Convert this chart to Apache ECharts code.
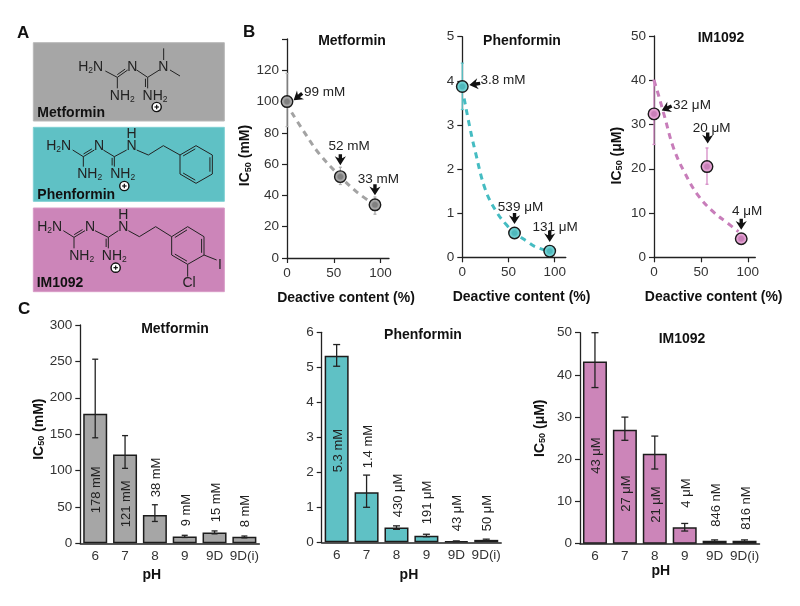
<!DOCTYPE html>
<html><head><meta charset="utf-8">
<style>html,body{margin:0;padding:0;background:#fff}#c{width:800px;height:606px}</style>
<script src="https://cdn.jsdelivr.net/npm/echarts@6/dist/echarts.min.js"></script>
</head><body><div id="c"></div>
<script>
// ---------- data ----------
const pHLabels = ['6','7','8','9','9D','9D(i)'];

const metBars = [178,122,39,9.5,15,9];
const metBarLo = [145,103,30,8,13,7.5];
const metBarHi = [253,148,53,11,17,10];
const metBarNotes = ['178 mM','121 mM','38 mM','9 mM','15 mM','8 mM'];

const phenBars = [5.33,1.43,0.42,0.19,0.03,0.07];
const phenBarLo = [5.03,1.0,0.37,0.16,0.02,0.03];
const phenBarHi = [5.65,1.92,0.47,0.23,0.04,0.09];
const phenBarNotes = ['5.3 mM','1.4 mM','430 μM','191 μM','43 μM','50 μM'];

const imBars = [43.2,27,21.3,3.9,0.7,0.7];
const imBarLo = [37,24.5,17.7,3,0.5,0.5];
const imBarHi = [50,30,25.5,4.8,0.9,0.9];
const imBarNotes = ['43 μM','27 μM','21 μM','4 μM','846 nM','816 nM'];

const deactive = [0,57,94];
const metPts = [100,52,34];
const metPtLo = [84,47,28];
const metPtHi = [118,58,39];
const metPtNotes = ['99 mM','52 mM','33 mM'];
const metCurve = [[5,93],[20,79],[34,67],[57,52],[75,42],[89,36]];

const phenX = [0,56.5,94.6];
const phenPts = [3.87,0.55,0.14];
const phenPtLo = [3.35,0.47,0.1];
const phenPtHi = [4.4,0.63,0.18];
const phenPtNotes = ['3.8 mM','539 μM','131 μM'];
const phenCurve = [[2,3.6],[8,2.96],[14,2.4],[25,1.53],[37,1.03],[48,0.73],[57,0.55],[70,0.36],[79,0.24],[90,0.16]];

const imX = [0,56.5,93];
const imPts = [32.4,20.5,4.2];
const imPtLo = [25.5,16.5,3.4];
const imPtHi = [40,24.7,5];
const imPtNotes = ['32 μM','20 μM','4 μM'];
const imCurve = [[0,40],[5,36.5],[11,32],[21,24.6],[33,19],[47,14],[63,10.3],[78,7.8],[90,5.8]];

// ---------- layout & style (not data) ----------
const FF = '"Liberation Sans", Arial, sans-serif';
const GREY='#a6a6a6', TEAL='#5fc1c5', PINK='#cc85b9';
const AX='#222', TXT='#333';
const tickFont = {fontFamily:FF,fontSize:13.5,color:TXT};

const grids = [
  {left:287,top:39,width:102,height:219},
  {left:462.3,top:36.7,width:103.5,height:220.6},
  {left:654,top:36,width:101.3,height:221.3},
  {left:80.3,top:325,width:179,height:218.3},
  {left:321.7,top:332.3,width:179.5,height:210},
  {left:580,top:332.7,width:179.5,height:211}
];
const arrowNote = [
  // per point: arrow tip offset, arrow direction, label centre offset
  [{t:[6.6,-1.3],d:[-30,24],l:[37.6,-9.3]},{t:[0,-11.5],d:[0,1],l:[8.7,-30]},{t:[0,-9.5],d:[0,1],l:[3.3,-25.7]}],
  [{t:[7,-1.5],d:[-1,0.15],l:[40.7,-6.7]},{t:[0,-9],d:[0,1],l:[6,-25.6]},{t:[0,-9],d:[0,1],l:[5.4,-24.3]}],
  [{t:[7.7,-3.3],d:[-30,14],l:[38,-9]},{t:[0.7,-23],d:[0,1],l:[4.7,-38.3]},{t:[0,-9],d:[0,1],l:[5.8,-27.3]}]
];
const noteLift = [[30,16,46,17,21,16],[70,74,25,18,11,11],[70,32,21,36,17,14]];

function icName(u){return '{a|IC}{s|50}{a| ('+u+')}';}
const nameRich = {a:{fontFamily:FF,fontSize:14,fontWeight:'bold',color:'#111'},
                  s:{fontFamily:FF,fontSize:9,fontWeight:'bold',color:'#111',verticalAlign:'bottom',lineHeight:14,padding:[6,0,0,0]}};

function yAxis(i,max,interval,labels,name,gap,padR,padL){
  return {gridIndex:i,type:'value',min:0,max:max,interval:interval,
    axisLine:{show:true,lineStyle:{color:AX,width:1.3}},
    axisTick:{show:true,length:5,lineStyle:{color:AX,width:1.2}},
    axisLabel:Object.assign({margin:8,customValues:labels},tickFont),
    splitLine:{show:false},
    name:name||'',nameLocation:'middle',nameGap:gap||30,nameRotate:90,
    nameTextStyle:{rich:nameRich,padding:[0,padR||0,0,padL||0]}};
}
function xVal(i,max,padL){
  return {gridIndex:i,type:'value',min:0,max:max,
    axisLine:{show:true,onZero:false,lineStyle:{color:AX,width:1.3}},
    axisTick:{show:true,length:5,customValues:[0,50,100],lineStyle:{color:AX,width:1.2}},
    axisLabel:Object.assign({margin:8,customValues:[0,50,100]},tickFont),
    splitLine:{show:false},
    name:'Deactive content (%)',nameLocation:'middle',nameGap:33,
    nameTextStyle:{fontFamily:FF,fontSize:14,fontWeight:'bold',color:'#111',padding:[0,0,0,padL]}};
}
function xCat(i,gap,padR){
  return {gridIndex:i,type:'category',data:pHLabels,
    axisLine:{show:true,lineStyle:{color:AX,width:1.5}},
    axisTick:{show:false},
    axisLabel:Object.assign({margin:6,interval:0},tickFont),
    name:'pH',nameLocation:'middle',nameGap:gap,
    nameTextStyle:{fontFamily:FF,fontSize:14,fontWeight:'bold',color:'#111',padding:[0,padR,0,0]}};
}

function errSeries(i,rows,color,cap,width){
  return {type:'custom',xAxisIndex:i,yAxisIndex:i,z:3,clip:false,silent:true,
    data:rows,encode:{x:0,y:[1,2]},
    renderItem:function(p,api){
      const a=api.coord([api.value(0),api.value(1)]),b=api.coord([api.value(0),api.value(2)]);
      const st={stroke:color,lineWidth:width};
      return {type:'group',children:[
        {type:'line',shape:{x1:a[0],y1:a[1],x2:b[0],y2:b[1]},style:st},
        {type:'line',shape:{x1:a[0]-cap,y1:a[1],x2:a[0]+cap,y2:a[1]},style:st},
        {type:'line',shape:{x1:b[0]-cap,y1:b[1],x2:b[0]+cap,y2:b[1]},style:st}]};
    }};
}
function curve(i,pts,color){
  return {type:'line',xAxisIndex:i,yAxisIndex:i,data:pts,smooth:0.4,showSymbol:false,symbol:'none',z:2,silent:true,
    lineStyle:{color:color,width:3,type:[6,5]}};
}
function points(i,xs,ys,inner,outer){
  return {type:'scatter',xAxisIndex:i,yAxisIndex:i,z:5,silent:true,symbolSize:11.5,clip:false,
    data:xs.map((x,k)=>[x,ys[k]]),
    itemStyle:{color:{type:'radial',x:.5,y:.5,r:.5,colorStops:[{offset:0,color:inner},{offset:.35,color:inner},{offset:.6,color:outer},{offset:1,color:outer}]},
      borderColor:'#1a1a1a',borderWidth:1.4,opacity:1}};
}
function arrows(i,xs,ys,notes,layout){
  return {type:'custom',xAxisIndex:i,yAxisIndex:i,z:6,clip:false,silent:true,
    data:xs.map((x,k)=>[x,ys[k]]),encode:{x:0,y:1},
    renderItem:function(p,api){
      const c=api.coord([api.value(0),api.value(1)]),L=layout[p.dataIndex];
      const n=Math.hypot(L.d[0],L.d[1]),dx=L.d[0]/n,dy=L.d[1]/n;
      const nx=-dy,ny=dx,tx=c[0]+L.t[0],ty=c[1]+L.t[1];
      const P=(b,s)=>[tx-dx*b+nx*s,ty-dy*b+ny*s];
      return {type:'group',children:[
        {type:'polygon',shape:{points:[P(0,0),P(8.8,5.6),P(6.8,1.7),P(11,1.7),P(11,-1.7),P(6.8,-1.7),P(8.8,-5.6)]},style:{fill:'#111'}},
        {type:'text',x:c[0]+L.l[0],y:c[1]+L.l[1],style:{text:notes[p.dataIndex],fontFamily:FF,fontSize:13.5,fill:'#222',align:'center',verticalAlign:'middle'}}
      ]};
    }};
}
function bars(i,vals,color){
  return {type:'bar',xAxisIndex:i,yAxisIndex:i,data:vals,barWidth:24,z:2,silent:true,
    itemStyle:{color:color,borderColor:'#1c1c1c',borderWidth:1.5}};
}
function barNotes(i,notes,lift){
  return {type:'custom',xAxisIndex:i,yAxisIndex:i,z:6,clip:false,silent:true,
    data:notes.map((n,k)=>[k,0]),encode:{x:0,y:1},
    renderItem:function(p,api){
      const c=api.coord([api.value(0),0]);
      return {type:'text',x:c[0]+1.5,y:c[1]-lift[p.dataIndex],rotation:Math.PI/2,
        style:{text:notes[p.dataIndex],fontFamily:FF,fontSize:13,fill:'#222',align:'left',verticalAlign:'middle'}};
    }};
}
const rows=(xs,lo,hi)=>xs.map((x,k)=>[x,lo[k],hi[k]]);
const idx=pHLabels.map((_,k)=>k);

// ---------- panel A: structure drawings ----------
const Z=(x,y)=>[x/3,y/3+20];
const gfx=[];
function rect(x1,y1,x2,y2,fill,stroke){const a=Z(x1,y1),b=Z(x2,y2);
  gfx.push({type:'rect',shape:{x:a[0],y:a[1],width:b[0]-a[0],height:b[1]-a[1]},style:{fill:fill,stroke:stroke,lineWidth:1}});}
function bond(x1,y1,x2,y2,dbl){const a=Z(x1,y1),b=Z(x2,y2);
  const st={stroke:'#222',lineWidth:1};
  gfx.push({type:'line',shape:{x1:a[0],y1:a[1],x2:b[0],y2:b[1]},style:st});
  if(dbl){const l=Math.hypot(b[0]-a[0],b[1]-a[1]),ox=-(b[1]-a[1])/l*dbl,oy=(b[0]-a[0])/l*dbl;
    const f=.12,sx=(b[0]-a[0])*f,sy=(b[1]-a[1])*f;
    gfx.push({type:'line',shape:{x1:a[0]+ox+sx,y1:a[1]+oy+sy,x2:b[0]+ox-sx,y2:b[1]+oy-sy},style:st});}
}
function atom(x,y,txt,align){const a=Z(x,y);
  gfx.push({type:'text',x:a[0],y:a[1],style:{text:txt,fontFamily:FF,fontSize:14,fill:'#222',align:align||'center',verticalAlign:'middle',
    rich:{a:{fontFamily:FF,fontSize:14,fill:'#222',color:'#222'},s:{fontFamily:FF,fontSize:8.5,color:'#333',verticalAlign:'bottom',padding:[7,0,0,0]}}}});}
function charge(x,y){const a=Z(x,y);
  gfx.push({type:'circle',shape:{cx:a[0],cy:a[1],r:4.6},style:{fill:'#fff',stroke:'#111',lineWidth:1.4}});
  gfx.push({type:'line',shape:{x1:a[0]-2.2,y1:a[1],x2:a[0]+2.2,y2:a[1]},style:{stroke:'#111',lineWidth:1.2}});
  gfx.push({type:'line',shape:{x1:a[0],y1:a[1]-2.2,x2:a[0],y2:a[1]+2.2},style:{stroke:'#111',lineWidth:1.2}});}
function label(x,y,t){const a=Z(x,y);
  gfx.push({type:'text',x:a[0],y:a[1],style:{text:t,fontFamily:FF,fontSize:14,fontWeight:'bold',fill:'#111',align:'left',verticalAlign:'middle'}});}
const NH2='{a|NH}{s|2}',H2N='{a|H}{s|2}{a|N}';

rect(100,68,673,303,GREY,'#b8b8b8');
rect(100,322,673,544,TEAL,'#7fd0d3');
rect(100,564,673,815,PINK,'#d89cc7');

// Metformin
atom(272,140,H2N);atom(397,140,'N');atom(490,140,'N');atom(367,228,NH2);atom(465,228,NH2);charge(470,261);
bond(316,153,352,172);bond(352,172,383,150,-2.2);bond(352,172,352,205);bond(410,150,443,172);bond(443,172,478,150);bond(443,172,443,205,2.2);
bond(491,120,491,85);bond(510,150,540,168);
label(112,280,'Metformin');
// Phenformin
atom(176,378,H2N);atom(297,378,'N');atom(395,378,'N');atom(395,342,'H');atom(269,462,NH2);atom(368,462,NH2);charge(373,498);
bond(218,390,250,410);bond(250,410,283,390,-2.2);bond(250,410,250,440);bond(310,390,343,410);bond(343,410,380,390);bond(343,410,343,440,2.2);
bond(410,390,445,405);bond(445,405,490,377);bond(490,377,540,405);
bond(540,405,588,377,2.4);bond(588,377,637,405);bond(637,405,637,462,2.4);bond(637,462,588,490);bond(588,490,540,462,2.4);bond(540,462,540,405);
label(112,525,'Phenformin');
// IM1092
atom(149,622,H2N);atom(270,622,'N');atom(370,622,'N');atom(370,585,'H');atom(245,708,NH2);atom(343,708,NH2);charge(347,743);
bond(190,632,222,652);bond(222,652,255,632,-2.2);bond(222,652,222,685);bond(285,632,325,652);bond(325,652,355,632);bond(325,652,325,685,2.2);
bond(385,632,418,650);bond(418,650,467,620);bond(467,620,515,650);
bond(515,650,563,620,2.4);bond(563,620,612,650);bond(612,650,612,705,2.4);bond(612,705,563,733);bond(563,733,515,705,2.4);bond(515,705,515,650);
bond(612,705,650,720);bond(563,733,563,770);atom(660,735,'I');atom(567,790,'Cl');
label(110,788,'IM1092');

[['A',17,33],['B',243,32],['C',18,309]].forEach(r=>gfx.push({type:'text',x:r[1],y:r[2],style:{text:r[0],fontFamily:FF,fontSize:17,fontWeight:'bold',fill:'#111',align:'left',verticalAlign:'middle'}}));

function ttl(text,cx,cy){return {text:text,left:cx,top:cy-8,textAlign:'center',textStyle:{fontFamily:FF,fontSize:14,fontWeight:'bold',color:'#111',lineHeight:16},padding:0};}

const option={
  animation:false,backgroundColor:'#fff',
  title:[ttl('Metformin',352,41),ttl('Phenformin',522,41),ttl('IM1092',721,38),ttl('Metformin',175,329),ttl('Phenformin',423,335),ttl('IM1092',682,339)],
  grid:grids,
  xAxis:[xVal(0,109,16),xVal(1,112,15),xVal(2,108,18),xCat(3,25,36),xCat(4,26,5),xCat(5,20,18)],
  yAxis:[
    yAxis(0,140,20,[0,20,40,60,80,100,120],icName('mM'),30,14),
    yAxis(1,5,1,[0,1,2,3,4,5]),
    yAxis(2,50,10,[0,10,20,30,40,50],icName('μM'),30,18),
    yAxis(3,300,50,[0,50,100,150,200,250,300],icName('mM'),34,0,10),
    yAxis(4,6,1,[0,1,2,3,4,5,6]),
    yAxis(5,50,10,[0,10,20,30,40,50],icName('μM'),33,0,20)
  ],
  series:[
    curve(0,metCurve,'#a3a3a3'),errSeries(0,rows(deactive,metPtLo,metPtHi),'#b0b0b0',1.5,1.3),points(0,deactive,metPts,'#808080','#a8a8a8'),arrows(0,deactive,metPts,metPtNotes,arrowNote[0]),
    curve(1,phenCurve,'#45bcc2'),errSeries(1,rows(phenX,phenPtLo,phenPtHi),'#5cc6ca',1.5,1.3),points(1,phenX,phenPts,'#4fb8bc','#6fd0d2'),arrows(1,phenX,phenPts,phenPtNotes,arrowNote[1]),
    curve(2,imCurve,'#c87dba'),errSeries(2,rows(imX,imPtLo,imPtHi),'#d58cc6',1.5,1.3),points(2,imX,imPts,'#c97fb8','#e3a0d2'),arrows(2,imX,imPts,imPtNotes,arrowNote[2]),
    bars(3,metBars,GREY),errSeries(3,rows(idx,metBarLo,metBarHi),'#222',3,1.3),barNotes(3,metBarNotes,noteLift[0]),
    bars(4,phenBars,TEAL),errSeries(4,rows(idx,phenBarLo,phenBarHi),'#222',3.5,1.3),barNotes(4,phenBarNotes,noteLift[1]),
    bars(5,imBars,PINK),errSeries(5,rows(idx,imBarLo,imBarHi),'#222',3.5,1.3),barNotes(5,imBarNotes,noteLift[2])
  ],
  graphic:{elements:gfx}
};
echarts.init(document.getElementById('c'),null,{renderer:'canvas'}).setOption(option);
</script></body></html>
